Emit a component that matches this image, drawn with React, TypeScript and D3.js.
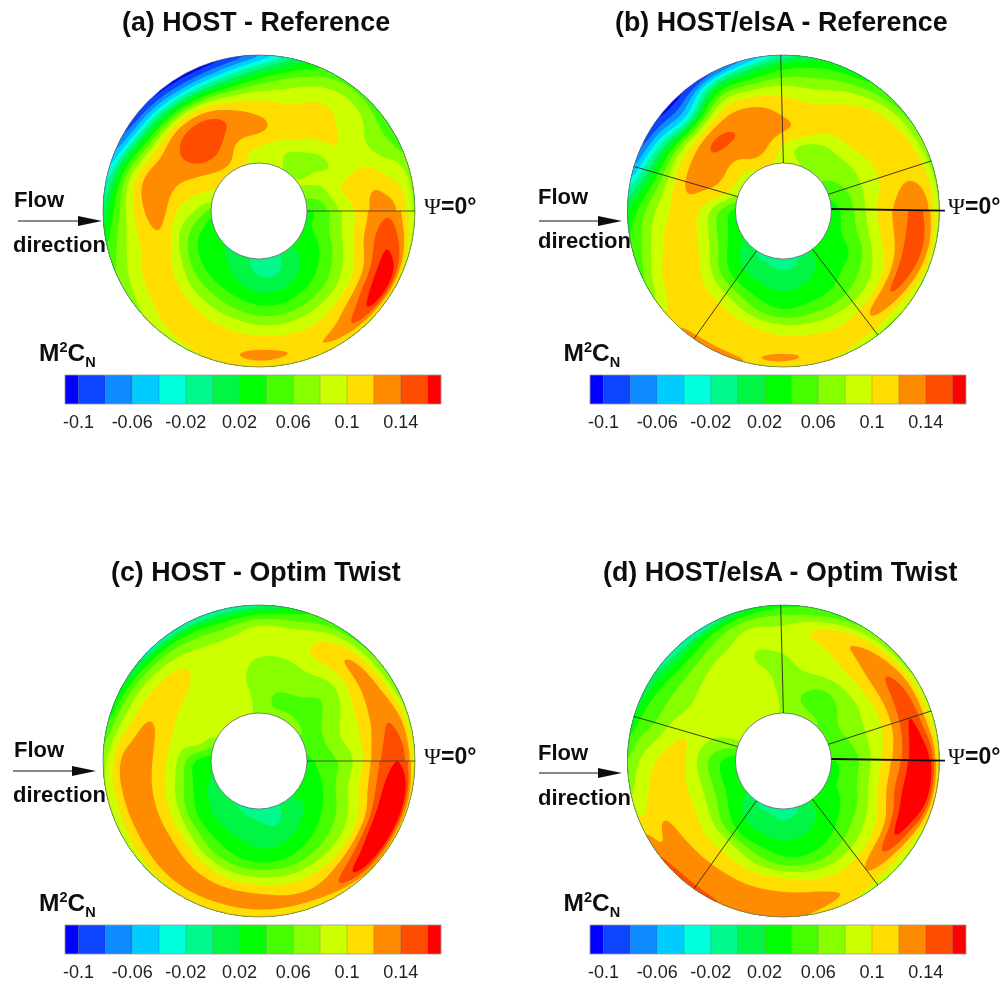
import React from "react";
import * as d3 from "d3";

// Azimuth of each row (degrees, counter-clockwise from psi = 0 on the right)
const psiDeg = d3.range(0, 360, 15);
// Radius of each column (pixels of the drawn disk: hub edge -> rim)
const ringRadius = [48, 64, 82, 100, 118, 134, 148, 156];

// M2CN x 100; one row per azimuth, hub -> rim
const fieldA = [
  [3.5, 5, 8, 10.5, 13, 13, 10, 7],
  [6, 7, 10, 11, 11.5, 10, 9, 7],
  [8, 8.5, 8, 9, 8.5, 7, 5.5, 4],
  [8, 7, 8, 10.5, 9.5, 9, 7, 5],
  [8, 7.5, 10, 11, 10.7, 9, 7, 5],
  [9, 9, 11, 11, 9, 7, 3.5, 1],
  [9.5, 10, 12.5, 11.5, 8.5, 3.5, -3, -7],
  [10, 10.5, 13, 12.7, 8, 0, -7, -11],
  [11, 13, 14.5, 15, 10, 0, -8, -11],
  [11, 13, 15.5, 15, 11, 1.5, -6.5, -11],
  [10, 11.5, 13, 13, 10.5, 3, -5, -9],
  [9, 10, 11.5, 13, 12.5, 8, 0.5, -4],
  [5, 8, 10, 13, 11.5, 7.5, 3, 0],
  [3, 5, 8, 11.5, 10.5, 8.5, 6, 4.5],
  [2.5, 3, 6, 10, 11, 10, 8, 6.5],
  [2, 2.5, 4.5, 8, 11, 10.7, 9.5, 8],
  [1.5, 2.2, 3.8, 7, 10, 11, 11, 9],
  [0.5, 1, 3, 6, 9.5, 11, 11.3, 10],
  [-1.2, -0.1, 2, 5, 8.8, 11.5, 12.6, 10],
  [-1.2, -0.3, 2, 4.8, 8.5, 11, 11.8, 10],
  [0.5, 1, 2.8, 5.5, 9, 11, 12.3, 10],
  [2, 2.5, 4, 6.5, 10, 13.5, 15, 9],
  [3, 3.5, 5.5, 8.5, 11.5, 16.5, 17.5, 8],
  [3.5, 5, 7.5, 10.5, 14, 16, 13, 8],
];
const fieldB = [
  [3, 5, 8, 11, 13, 14.5, 11.5, 7],
  [4, 5.5, 8, 10, 11.5, 11.5, 10, 7],
  [5, 6.5, 8, 10, 11, 11, 9, 5.5],
  [7, 7, 8.5, 11, 11.3, 10.5, 7.5, 4.5],
  [7.5, 6, 9, 11, 10.5, 8.5, 5, 3],
  [8.5, 7.5, 11, 11, 9, 6.5, 4, 2],
  [9, 9.5, 12.3, 11.5, 9.5, 6, 2, -2],
  [10, 12, 13.4, 13, 10, 4.5, -1.5, -7],
  [10, 12.6, 13.8, 13.5, 10.5, 5, -3, -10],
  [9, 11, 13.6, 14, 7, -4, -9, -11],
  [9, 11.5, 13, 12.7, 8.5, 0.5, -6, -10],
  [7, 10.5, 12.2, 12.3, 8.5, 3, -2.5, -6],
  [3, 5.8, 9.5, 11, 9.5, 7, 4, 2.5],
  [3, 5, 9, 11, 10.7, 8.5, 5.5, 4],
  [2.5, 4, 7.5, 10.5, 11, 10.7, 8.5, 6],
  [1, 2, 4.5, 8.5, 11, 11, 11, 11.5],
  [-0.5, 1.2, 3.4, 7.5, 10.5, 11, 11, 14],
  [-0.5, 0.8, 2.6, 5.5, 9.8, 11, 11.7, 12],
  [-1.5, 0.5, 2, 4.2, 9, 11, 12.4, 11],
  [-0.5, 1, 2.5, 4.8, 8.5, 11, 11.5, 10.5],
  [1.5, 2, 3, 5, 8.5, 10.5, 11, 8],
  [3, 3, 4, 6, 9, 13, 10, 7],
  [4, 3.5, 4.5, 7.5, 10.5, 15, 11.5, 8],
  [3, 4.5, 7, 10, 12.5, 15.5, 13, 8],
];
const fieldC = [
  [3.5, 4.7, 6.3, 9, 13.5, 15.5, 14, 8],
  [4.5, 5.5, 7.8, 9.5, 12.2, 14.2, 12.5, 8],
  [6, 5.5, 7, 8.7, 11.5, 13, 10, 5.5],
  [7, 5, 5.5, 7, 10, 12.7, 9, 5],
  [7.5, 5, 7, 8, 10.3, 10.5, 7.5, 4.5],
  [6.5, 5.5, 7, 7.5, 9, 8.3, 5, 3],
  [7.5, 7.5, 7, 7.7, 9, 8.5, 3.5, -1.5],
  [8.5, 8.5, 8.7, 8.8, 8.8, 6.5, 2, -2.5],
  [9, 9, 9, 9, 9, 7, 3, -3],
  [9, 9, 9, 10, 10.8, 8, 3.5, -2],
  [8, 9, 9, 10.5, 11, 9, 5, 1],
  [5.5, 8.5, 9, 11.3, 12.5, 10, 6.5, 3],
  [2.5, 3.8, 8, 11.2, 13, 13, 9.5, 7],
  [2, 3.2, 7, 10.5, 12.8, 13, 10, 7.5],
  [1.2, 2.5, 5.2, 9.5, 12.5, 13, 10.5, 8.5],
  [0.5, 1.6, 3.7, 8.2, 12, 13, 11.5, 9],
  [0, 1, 3, 6, 10.5, 12.8, 12, 9.5],
  [-0.5, 0.7, 2.2, 4.5, 9, 12.5, 12, 9.5],
  [-1, 0.3, 1.5, 3.6, 8.5, 12.3, 12.3, 9.5],
  [-1, -0.3, 1.5, 3.8, 8, 11.5, 12.3, 10],
  [0.5, 1, 2.5, 4.8, 8.5, 11.8, 13, 10],
  [2, 2, 3.7, 6, 9.5, 14.5, 17.5, 10],
  [3, 3, 5, 7.5, 11, 18, 18.5, 9],
  [3.5, 4, 6.5, 9.5, 13.5, 18, 18.5, 9],
];
const fieldD = [
  [4, 4.5, 7, 10.5, 14, 18, 16, 8],
  [5, 5.5, 7.5, 9.5, 13, 16.5, 12, 8],
  [5.5, 6, 7.5, 9, 12.5, 15, 12, 7],
  [6, 5.5, 6.5, 9, 12, 13.5, 10.5, 6],
  [7, 5, 6, 9, 10.5, 12, 9, 5],
  [7.5, 6, 7, 9, 9.5, 10.5, 6.5, 4],
  [8, 7.5, 7, 7.5, 8.5, 8, 5.5, 3],
  [8, 9, 9, 8, 8, 8.5, 5, 1],
  [9, 9, 9, 9, 8.5, 6.5, 3, -3],
  [9, 9, 9, 9, 7.5, 5, 1, -2],
  [9, 9, 9, 8.5, 7, 5.5, 3, 0],
  [6, 7, 8.5, 10, 8.5, 6, 4.5, 2],
  [2.5, 4.1, 7, 10.3, 10.8, 9.5, 7.5, 6],
  [2.5, 4, 7.5, 10, 11, 10.5, 9, 8],
  [2.5, 3.8, 7, 10, 11, 12.5, 11.5, 13],
  [1.5, 2.5, 5, 9, 11, 13, 13, 15.5],
  [-0.5, 1.2, 3.4, 8.5, 11, 12.8, 13, 15],
  [-0.5, 1, 2.8, 6.5, 10.5, 12.5, 13, 13],
  [-1.5, 0.5, 2.2, 4.8, 10.3, 12.3, 13, 12],
  [-0.5, 1, 2.5, 4.5, 9, 12, 12.5, 11.5],
  [1.5, 2, 3, 5.5, 9, 11, 11.5, 9],
  [3, 3, 4.5, 7, 10, 13.5, 10.5, 8],
  [4, 4, 5.5, 8.5, 12, 17, 12, 8],
  [3.5, 4.5, 7, 10.5, 15, 18.5, 17, 9],
];

// Contour levels (x 100) and band colours: bandColors[0] lies below levels[0]
const levels = d3.range(-10, 17, 2);
const bandColors = [
  "#0000ff", "#0c44ff", "#0a8aff", "#00ccff", "#00ffdd", "#00f98c", "#00f544", "#00ff00",
  "#44ff00", "#88ff00", "#ccff00", "#ffdd00", "#ff8c00", "#ff4d00", "#ff0000",
];
const tickValues = [-0.1, -0.06, -0.02, 0.02, 0.06, 0.1, 0.14];
const tickLabels = ["-0.1", "-0.06", "-0.02", "0.02", "0.06", "0.1", "0.14"];

// Outer / inner azimuth of the dark block seams in the coupled HOST/elsA panels
const seamOuterPsi = [18.7, 91, 163.4, 235, 307.3];
const seamInnerPsi = [20.4, 90, 162.6, 235.9, 307.3];

const panels = [
  { title: "(a) HOST - Reference", field: fieldA, tx: 122, ty: 31, cx: 259, cy: 211, flowX: 14, flowY: 207, dirX: 13, dirY: 252, ax0: 18, ax1: 102, ay: 221, seams: false, barX0: 65, barY: 375, psiX: 424, psiY: 214, mX: 39, mY: 361 },
  { title: "(b) HOST/elsA - Reference", field: fieldB, tx: 615, ty: 31, cx: 783.4, cy: 211, flowX: 538, flowY: 204, dirX: 538, dirY: 248, ax0: 539, ax1: 622, ay: 221, seams: true, barX0: 590, barY: 375, psiX: 948, psiY: 214, mX: 563.5, mY: 361 },
  { title: "(c) HOST - Optim Twist", field: fieldC, tx: 111, ty: 581, cx: 259, cy: 761, flowX: 14, flowY: 757, dirX: 13, dirY: 802, ax0: 13, ax1: 96, ay: 771, seams: false, barX0: 65, barY: 925, psiX: 424, psiY: 764, mX: 39, mY: 911 },
  { title: "(d) HOST/elsA - Optim Twist", field: fieldD, tx: 603, ty: 581, cx: 783.4, cy: 761, flowX: 538, flowY: 760, dirX: 538, dirY: 805, ax0: 539, ax1: 622, ay: 773, seams: true, barX0: 590, barY: 925, psiX: 948, psiY: 764, mX: 563.5, mY: 911 },
];

const GW = 720;
const GH = 108;
const R0 = ringRadius[0];
const R1 = ringRadius[ringRadius.length - 1];

function upsample(field: number[][]): number[] {
  const nPsi = field.length;
  const nR = ringRadius.length;
  const step = psiDeg[1] - psiDeg[0];
  const ringCols: number[][] = [];
  for (let k = 0; k < nR; k++) {
    const col = new Array(GW);
    for (let i = 0; i < GW; i++) {
      const u = (((i + 0.5) / GW) * 360) / step;
      const a = Math.floor(u);
      const t = u - a;
      const g = (n: number) => field[((a + n) % nPsi + nPsi) % nPsi][k];
      const p0 = g(-1), p1 = g(0), p2 = g(1), p3 = g(2);
      col[i] = 0.5 * (2 * p1 + (p2 - p0) * t + (2 * p0 - 5 * p1 + 4 * p2 - p3) * t * t + (3 * p1 - p0 - 3 * p2 + p3) * t * t * t);
    }
    ringCols.push(col);
  }
  const out = new Array(GW * GH);
  const rs = ringRadius;
  for (let i = 0; i < GW; i++) {
    const slope = (k: number) => {
      if (k === 0) return (ringCols[1][i] - ringCols[0][i]) / (rs[1] - rs[0]);
      if (k === nR - 1) return (ringCols[nR - 1][i] - ringCols[nR - 2][i]) / (rs[nR - 1] - rs[nR - 2]);
      return (ringCols[k + 1][i] - ringCols[k - 1][i]) / (rs[k + 1] - rs[k - 1]);
    };
    for (let j = 0; j < GH; j++) {
      const r = R0 + ((j + 0.5) / GH) * (R1 - R0);
      let k = d3.bisectRight(rs, r) - 1;
      k = Math.max(0, Math.min(nR - 2, k));
      const h = rs[k + 1] - rs[k];
      const t = (r - rs[k]) / h;
      const t2 = t * t, t3 = t2 * t;
      out[i + j * GW] =
        (2 * t3 - 3 * t2 + 1) * ringCols[k][i] + (t3 - 2 * t2 + t) * h * slope(k) +
        (-2 * t3 + 3 * t2) * ringCols[k + 1][i] + (t3 - t2) * h * slope(k + 1);
    }
  }
  d3.blur2({ data: out, width: GW, height: GH }, 8, 2);
  return out;
}

const psiScale = d3.scaleLinear().domain([0, GW]).range([0, 2 * Math.PI]);
const radiusScale = d3.scaleLinear().domain([0, GH]).range([R0, R1]);
const barScale = d3.scaleLinear().domain([-0.11, 0.17]).range([0, 376]);
const SANS = "'Liberation Sans', Arial, sans-serif";

function polar(cx: number, cy: number, r: number, psi: number) {
  const a = (psi * Math.PI) / 180;
  return [cx + r * Math.cos(a), cy - r * Math.sin(a)];
}

function Disk({ p }: { p: (typeof panels)[number] }) {
  const paths = React.useMemo(() => {
    const grid = upsample(p.field);
    const contours = d3.contours().size([GW, GH]).thresholds(levels)(grid);
    const tr = d3.geoTransform({
      point(this: any, x: number, y: number) {
        const a = psiScale(x);
        const r = radiusScale(y);
        this.stream.point(p.cx + r * Math.cos(a), p.cy - r * Math.sin(a));
      },
    });
    const path = d3.geoPath(tr);
    return contours.map((c: any) => path(c) || "");
  }, [p]);
  const annulus = d3.arc()({ innerRadius: R0, outerRadius: R1, startAngle: 0, endAngle: 2 * Math.PI } as any) || "";
  return (
    <g>
      <path d={annulus} transform={`translate(${p.cx},${p.cy})`} fill={bandColors[0]} />
      {paths.map((d: string, i: number) => (
        <path key={i} d={d} fill={bandColors[i + 1]} fillRule="evenodd" />
      ))}
      <circle cx={p.cx} cy={p.cy} r={R0} fill="#fff" stroke="#555" strokeWidth={0.7} />
      <circle cx={p.cx} cy={p.cy} r={R1} fill="none" stroke="#666" strokeWidth={0.7} />
      {p.seams &&
        seamOuterPsi.map((psi, i) => {
          const a = polar(p.cx, p.cy, R1, psi);
          const b = polar(p.cx, p.cy, R0, seamInnerPsi[i]);
          return <line key={i} x1={a[0]} y1={a[1]} x2={b[0]} y2={b[1]} stroke="#2a2a20" strokeWidth={0.9} />;
        })}
      {p.seams ? (
        <line x1={p.cx + 48} y1={p.cy - 2} x2={p.psiX - 3} y2={p.cy - 0.4} stroke="#111" strokeWidth={1.8} />
      ) : (
        <line x1={p.cx + R0} y1={p.cy} x2={p.cx + R1} y2={p.cy} stroke="#333" strokeWidth={0.8} />
      )}
    </g>
  );
}

function Bar({ p }: { p: (typeof panels)[number] }) {
  const edges = [-0.11, ...levels.map((l) => l / 100), 0.17];
  return (
    <g transform={`translate(${p.barX0},${p.barY})`}>
      {bandColors.map((c, i) => (
        <rect key={i} x={barScale(edges[i])} y={0} width={barScale(edges[i + 1]) - barScale(edges[i])} height={29} fill={c} />
      ))}
      {levels.map((l) => (
        <line key={l} x1={barScale(l / 100)} x2={barScale(l / 100)} y1={0} y2={29} stroke="#000" strokeOpacity={0.25} strokeWidth={0.7} />
      ))}
      <rect x={0} y={0} width={376} height={29} fill="none" stroke="#999" strokeWidth={0.8} />
      {tickValues.map((v, i) => (
        <text key={i} x={barScale(v)} y={53} textAnchor="middle" fontFamily={SANS} fontSize={18} fill="#222">
          {tickLabels[i]}
        </text>
      ))}
    </g>
  );
}

function Panel({ p }: { p: (typeof panels)[number] }) {
  return (
    <g>
      <text x={p.tx} y={p.ty} fontFamily={SANS} fontWeight="bold" fontSize={26.8} fill="#111">{p.title}</text>
      <Disk p={p} />
      <text x={p.flowX} y={p.flowY} fontFamily={SANS} fontWeight="bold" fontSize={22} fill="#111">Flow</text>
      <text x={p.dirX} y={p.dirY} fontFamily={SANS} fontWeight="bold" fontSize={22} fill="#111">direction</text>
      <line x1={p.ax0} y1={p.ay} x2={p.ax1 - 20} y2={p.ay} stroke="#111" strokeWidth={1.2} />
      <polygon points={`${p.ax1},${p.ay} ${p.ax1 - 24},${p.ay - 5} ${p.ax1 - 24},${p.ay + 5}`} fill="#111" />
      <text x={p.psiX} y={p.psiY} fontSize={23} fill="#111">
        <tspan fontFamily="'Liberation Serif', serif">Ψ</tspan>
        <tspan fontFamily={SANS} fontWeight="bold">=0°</tspan>
      </text>
      <text x={p.mX} y={p.mY} fontFamily={SANS} fontWeight="bold" fontSize={24.5} fill="#111">
        M<tspan fontSize={14.5} dy={-9}>2</tspan><tspan dy={9}>C</tspan><tspan fontSize={14.5} dy={6}>N</tspan>
      </text>
      <Bar p={p} />
    </g>
  );
}

export default function App() {
  return (
    <svg width={1006} height={985} viewBox="0 0 1006 985" style={{ position: "absolute", left: 0, top: 0, background: "#fff" }}>
      <defs>
        <filter id="soft" x="0" y="0" width="100%" height="100%">
          <feGaussianBlur stdDeviation={0.45} />
        </filter>
      </defs>
      <g filter="url(#soft)">
        <rect width={1006} height={985} fill="#fff" />
        {panels.map((p) => (
          <Panel key={p.title} p={p} />
        ))}
      </g>
    </svg>
  );
}
